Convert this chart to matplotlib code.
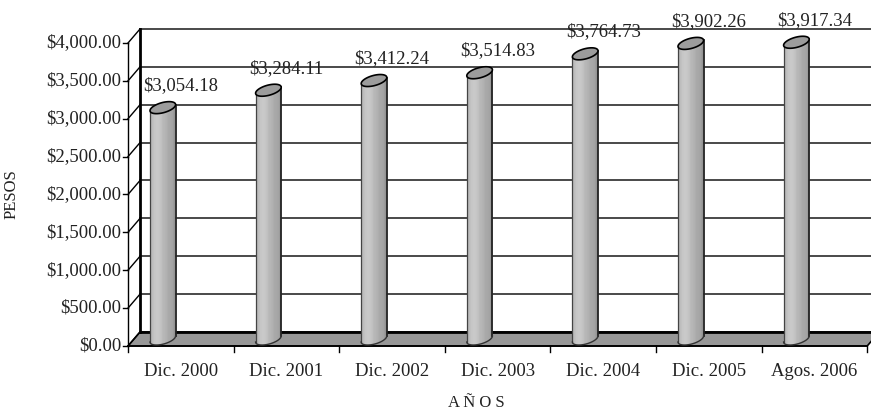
import numpy as np
import matplotlib
matplotlib.use("Agg")
import matplotlib.pyplot as plt
from matplotlib.colors import LinearSegmentedColormap
from matplotlib.patches import Polygon

# ---- datos ----
categorias = ['Dic. 2000', 'Dic. 2001', 'Dic. 2002', 'Dic. 2003',
              'Dic. 2004', 'Dic. 2005', 'Agos. 2006']
valores = [3054.18, 3284.11, 3412.24, 3514.83, 3764.73, 3902.26, 3917.34]
ticks_y = [0, 500, 1000, 1500, 2000, 2500, 3000, 3500, 4000]

plt.rcParams['font.family'] = ['Liberation Serif', 'DejaVu Serif']
FS = 13.5

# escala en pixeles -> unidades de datos
SX = 105.6            # px por categoria
SY = 303 / 4000.0     # px por peso
X0, Y0 = 128, 346     # origen del plano frontal (px)
W, H = 871, 413

DX = 12 / SX          # profundidad 3D
DY = 14 / SY

fig = plt.figure(figsize=(W / 100, H / 100), dpi=100)
ax = fig.add_axes([0, 0, 1, 1])
ax.set_xlim(-X0 / SX, (W - X0) / SX)
ax.set_ylim(-(H - Y0) / SY, Y0 / SY)
ax.axis('off')

n = len(categorias)
ymax = ticks_y[-1]

# ---- piso ----
floor = Polygon([(0, 0), (n, 0), (n + DX, DY), (DX, DY)], closed=True,
                facecolor='#979797', edgecolor='black', lw=1.2, zorder=1)
ax.add_patch(floor)
ax.plot([DX, n + 1], [DY, DY], color='black', lw=2.0, zorder=2)

# ---- pared trasera y rejilla ----
for t in ticks_y[1:]:
    ax.plot([DX, n + 1], [t + DY, t + DY], color='#3a3a3a', lw=1.3, zorder=1)
ax.plot([DX, DX], [DY, ymax + DY], color='black', lw=2.0, zorder=2)

# ---- eje y frontal ----
ax.plot([0, 0], [0, ymax], color='black', lw=1.0, zorder=2)
for t in ticks_y:
    ax.plot([0, DX], [t, t + DY], color='black', lw=1.0, zorder=2)
    ax.plot([-5 / SX, 0], [t, t], color='black', lw=1.0, zorder=2)
    ax.text(-7 / SX, t, '${:,.2f}'.format(t), ha='right', va='center',
            fontsize=FS, color='#222222')

# ---- eje x ----
ax.plot([0, n], [0, 0], color='black', lw=1.2, zorder=3)
for i in range(n + 1):
    ax.plot([i, i], [0, -6 / SY], color='black', lw=1.0, zorder=3)
for i, c in enumerate(categorias):
    ax.text(i + 0.5, -26 / SY, c, ha='center', va='center', fontsize=FS,
            color='#222222')

ax.text(-116 / SX, 2000, 'PESOS', rotation=90, ha='center',
        va='center', fontsize=FS - 1.5, color='#222222')
ax.text(3.3, -57 / SY, 'A Ñ O S', ha='center', va='center', fontsize=FS - 1.5,
        color='#222222')

# ---- cilindros ----
cmap = LinearSegmentedColormap.from_list(
    'cyl', ['#a8a8a8', '#c6c6c6', '#cbcbcb', '#c0c0c0', '#b4b4b4',
            '#aaaaaa', '#a2a2a2', '#8e8e8e'])
grad = np.linspace(0, 1, 64).reshape(1, -1)
# rayas verticales tenues
grad = grad + 0.04 * (np.sin(np.linspace(0, 9 * np.pi, 64)) > 0.7)

A = 12.8 / SX       # semi-ancho
B = 5.2 / SY        # semi-alto
SK = 3.0 / SY       # inclinacion de la elipse
t = np.linspace(0, 2 * np.pi, 80)
ex = A * np.cos(t)
ey = B * np.sin(t) + SK * np.cos(t)
tl = np.linspace(np.pi, 2 * np.pi, 40)   # mitad inferior
lx = A * np.cos(tl)
ly = B * np.sin(tl) + SK * np.cos(tl)

for i, v in enumerate(valores):
    cx = i + 0.5 - 18 / SX
    base = DY / 2
    top = v + DY / 2
    body = np.column_stack([
        np.concatenate([cx + lx, [cx + A, cx - A]]),
        np.concatenate([base + ly, [top + SK, top - SK]]),
    ])
    poly = Polygon(body, closed=True, facecolor='none', edgecolor='none')
    ax.add_patch(poly)
    im = ax.imshow(grad, cmap=cmap, extent=[cx - A, cx + A, base - B - SK, top + SK],
                   aspect='auto', zorder=4, interpolation='bilinear', vmin=0, vmax=1.04)
    im.set_clip_path(poly)
    ax.plot([cx - A, cx - A], [base - SK, top - SK], color='#444444', lw=0.9, zorder=5)
    ax.plot([cx + A, cx + A], [base + SK, top + SK], color='#222222', lw=1.3, zorder=5)
    ax.plot(cx + lx, base + ly, color='#333333', lw=1.0, zorder=5)
    cap = Polygon(np.column_stack([cx + ex, top + ey]), closed=True,
                  facecolor='#9c9c9c', edgecolor='black', lw=1.2, zorder=6)
    ax.add_patch(cap)
    ax.text(i + 0.5, v + 380, '${:,.2f}'.format(v), ha='center', va='center',
            fontsize=FS, color='#222222', zorder=7)

fig.savefig('out.png', dpi=100)
